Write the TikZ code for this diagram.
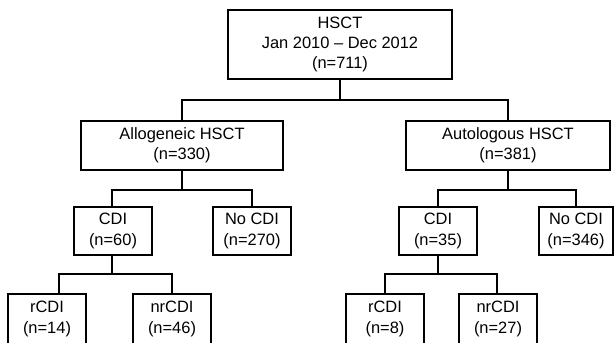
\documentclass[tikz,border=0pt]{standalone}
\usepackage{fontspec}
\setmainfont{Liberation Sans}
\begin{document}
\begin{tikzpicture}[x=1bp,y=-1bp,
  box/.style={draw=black, line width=2bp, inner sep=0pt, align=center,
    font=\fontsize{16.5}{20.5}\selectfont},
  conn/.style={draw=black, line width=2bp, line cap=rect}]
\useasboundingbox (0,0) rectangle (614,342);
\fill[white] (0,0) rectangle (614,342);
% boxes
\node[box, minimum width=224bp, minimum height=69bp] (top) at (340,44.5)
  {HSCT\\Jan 2010 -- Dec 2012\\(n=711)};
\node[box, minimum width=202bp, minimum height=49bp] (allo) at (182,145.5)
  {Allogeneic HSCT\\(n=330)};
\node[box, minimum width=204bp, minimum height=49bp] (auto) at (508,145.5)
  {Autologous HSCT\\(n=381)};
\node[box, minimum width=78bp, minimum height=48bp] (cdiA) at (113,231)
  {CDI\\(n=60)};
\node[box, minimum width=78bp, minimum height=48bp] (nocdiA) at (252,231)
  {No CDI\\(n=270)};
\node[box, minimum width=78bp, minimum height=48bp] (cdiB) at (438,231)
  {CDI\\(n=35)};
\node[box, minimum width=74bp, minimum height=48bp] (nocdiB) at (576,231)
  {No CDI\\(n=346)};
\node[box, minimum width=78bp, minimum height=50bp] (rA) at (47,319)
  {rCDI\\(n=14)};
\node[box, minimum width=78bp, minimum height=50bp] (nrA) at (172,319)
  {nrCDI\\(n=46)};
\node[box, minimum width=78bp, minimum height=50bp] (rB) at (385,319)
  {rCDI\\(n=8)};
\node[box, minimum width=78bp, minimum height=50bp] (nrB) at (498,319)
  {nrCDI\\(n=27)};
% junction levels
\coordinate (h1) at (0,100);
\coordinate (h2) at (0,190);
\coordinate (h3) at (0,274);
% connectors
\draw[conn] (top.south) -- (top.south |- h1);
\draw[conn] (allo.north) -- (allo.north |- h1) -- (auto.north |- h1) -- (auto.north);
\draw[conn] (allo.south) -- (allo.south |- h2);
\draw[conn] ([xshift=-1bp]cdiA.north) -- ([xshift=-1bp]cdiA.north |- h2) -- (nocdiA.north |- h2) -- (nocdiA.north);
\draw[conn] (auto.south) -- (auto.south |- h2);
\draw[conn] (cdiB.north) -- (cdiB.north |- h2) -- (nocdiB.north |- h2) -- (nocdiB.north);
\draw[conn] ([xshift=-1bp]cdiA.south) -- ([xshift=-1bp]cdiA.south |- h3);
\draw[conn] ([xshift=12bp]rA.north) -- ([xshift=12bp]rA.north |- h3) -- (nrA.north |- h3) -- (nrA.north);
\draw[conn] (cdiB.south) -- (cdiB.south |- h3);
\draw[conn] (rB.north) -- (rB.north |- h3) -- ([xshift=-1bp]nrB.north |- h3) -- ([xshift=-1bp]nrB.north);
\end{tikzpicture}
\end{document}
